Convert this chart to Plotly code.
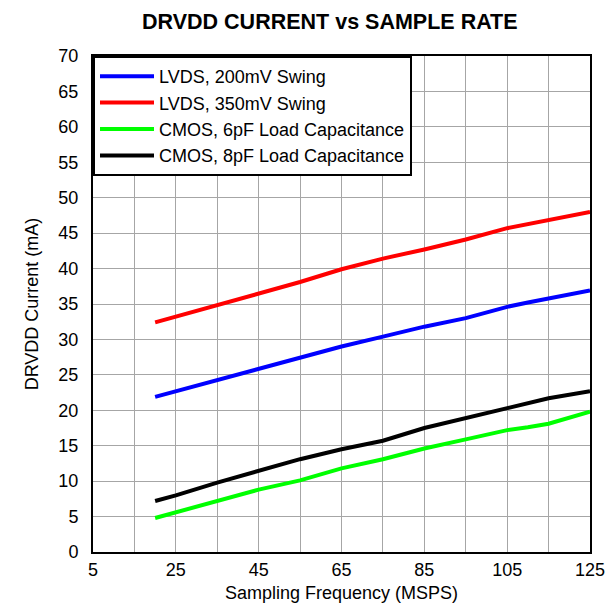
import plotly.graph_objects as go

freq = [20, 25, 35, 45, 55, 65, 75, 85, 95, 105, 110, 115, 125]
lvds_200 = [21.9, 22.7, 24.2, 25.9, 27.4, 29.0, 30.4, 31.8, 33.0, 34.6, 35.2, 35.8, 36.9]
lvds_350 = [32.4, 33.2, 34.9, 36.5, 38.1, 39.9, 41.4, 42.7, 44.1, 45.7, 46.3, 46.9, 48.0]
cmos_6pf = [4.8, 5.6, 7.2, 8.8, 10.1, 11.8, 13.1, 14.6, 15.9, 17.2, 17.6, 18.1, 19.8]
cmos_8pf = [7.2, 8.0, 9.8, 11.5, 13.1, 14.5, 15.7, 17.5, 18.9, 20.2, 21.0, 21.7, 22.7]

series = [
    ("LVDS, 200mV Swing", lvds_200, "#0000ff"),
    ("LVDS, 350mV Swing", lvds_350, "#ff0000"),
    ("CMOS, 6pF Load Capacitance", cmos_6pf, "#00ff00"),
    ("CMOS, 8pF Load Capacitance", cmos_8pf, "#000000"),
]

x_grid = list(range(5, 126, 10))
x_labels = [str(v) if (v - 5) % 20 == 0 else "" for v in x_grid]
y_ticks = list(range(0, 71, 5))

fig = go.Figure()
for name, vals, color in series:
    fig.add_trace(go.Scatter(x=freq, y=vals, name=name, mode="lines",
                             line=dict(color=color, width=4)))

font = "Liberation Sans, Arial, sans-serif"
fig.update_layout(
    width=613, height=607,
    margin=dict(l=85, r=31, t=48, b=63),
    paper_bgcolor="white", plot_bgcolor="white",
    font=dict(family=font, size=18, color="black"),
    title=dict(text="<b>DRVDD CURRENT vs SAMPLE RATE</b>", x=0.525, xanchor="center",
               y=0.977, yanchor="middle", font=dict(size=21.5, family=font)),
    showlegend=True,
    legend=dict(x=0, y=1, xanchor="left", yanchor="top", bgcolor="white",
                bordercolor="black", borderwidth=2, font=dict(size=18, family=font),
                tracegroupgap=0, itemwidth=54),
)
fig.update_xaxes(range=[5, 125], tickvals=x_grid, ticktext=x_labels,
                 showgrid=True, gridcolor="#a6a6a6", gridwidth=1,
                 showline=True, linecolor="black", linewidth=2, mirror=True,
                 ticks="", zeroline=False, tickfont=dict(size=18),
                 title=dict(text="Sampling Frequency (MSPS)", standoff=8,
                            font=dict(size=18)))
fig.update_yaxes(range=[0, 70], tickvals=y_ticks,
                 showgrid=True, gridcolor="#a6a6a6", gridwidth=1,
                 showline=True, linecolor="black", linewidth=2, mirror=True,
                 ticks="", zeroline=False, tickfont=dict(size=18),
                 ticklabelstandoff=9,
                 title=dict(text="DRVDD Current (mA)", standoff=15,
                            font=dict(size=18)))

fig.write_html("out.html")
